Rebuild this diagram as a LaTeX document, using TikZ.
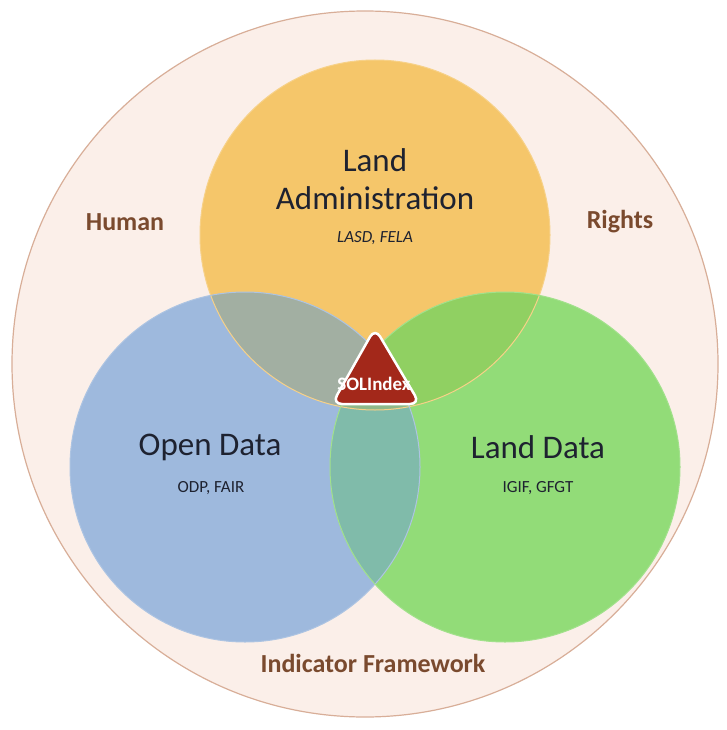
\documentclass[tikz,border=0pt]{standalone}
\usepackage{fontspec}
\setmainfont{Carlito}
\definecolor{outerfill}{HTML}{FBEFE9}
\definecolor{outerline}{HTML}{D8AE98}
\definecolor{yel}{HTML}{F5C66A}
\definecolor{blu}{HTML}{9EB9DD}
\definecolor{grn}{HTML}{92DC78}
\definecolor{yb}{HTML}{A2AFA2}
\definecolor{yg}{HTML}{90D062}
\definecolor{bg}{HTML}{80BBAA}
\definecolor{ybg}{HTML}{8FB889}
\definecolor{brownt}{HTML}{7A4A2E}
\definecolor{solred}{HTML}{A3281A}
\definecolor{darkt}{HTML}{1E2230}
\begin{document}
\begin{tikzpicture}[x=1pt,y=-1pt,
  ringlabel/.style={font=\bfseries\fontsize{26}{30}\selectfont, text=brownt},
  title/.style={font=\fontsize{33}{38}\selectfont, text=darkt, align=center},
  sub/.style={font=\fontsize{17}{20}\selectfont, text=darkt}]
\useasboundingbox (0,0) rectangle (727,730);
\coordinate (Y) at (375,235);
\coordinate (B) at (245,467);
\coordinate (G) at (505,467);
\def\r{175}
% outer circle
\draw[outerline, line width=1.2pt, fill=outerfill] (365,364) circle (353);
% circles
\fill[yel] (Y) circle (\r);
\fill[blu] (B) circle (\r);
\fill[grn] (G) circle (\r);
\begin{scope}
  \clip (Y) circle (\r);
  \fill[yb] (B) circle (\r);
  \fill[yg] (G) circle (\r);
\end{scope}
\begin{scope}
  \clip (B) circle (\r);
  \fill[bg] (G) circle (\r);
  \clip (Y) circle (\r);
  \fill[ybg] (G) circle (\r);
\end{scope}
% subtle rims
\draw[yel!80!white, line width=1pt] (Y) circle (\r);
\draw[blu!85!white, line width=1pt] (B) circle (\r);
\draw[grn!85!white, line width=1pt] (G) circle (\r);
% SOLIndex triangle
\coordinate (t1) at (375,328);
\coordinate (t2) at (332,404);
\coordinate (t3) at (420,404);
\draw[white, line width=2.5pt, fill=solred, rounded corners=10pt, line join=round]
  (t1) -- (t2) -- (t3) -- cycle;
\node[font=\bfseries\fontsize{19}{21}\selectfont, text=white] (sol) at (374,384) {SOLIndex};
% texts
\node[title] (la) at (375,179) {Land\\Administration};
\node[sub, font=\itshape\fontsize{17}{20}\selectfont] (las) at (375,238) {LASD, FELA};
\node[title] (od) at (210,447) {Open Data};
\node[sub] (ods) at (211,488) {ODP, FAIR};
\node[title] (ld) at (538,447) {Land Data};
\node[sub] (lds) at (538,488) {IGIF, GFGT};
\node[ringlabel] (hu) at (125,222) {Human};
\node[ringlabel] (ri) at (620,222) {Rights};
\node[ringlabel] (ifw) at (373,663) {Indicator Framework};
\end{tikzpicture}
\end{document}
